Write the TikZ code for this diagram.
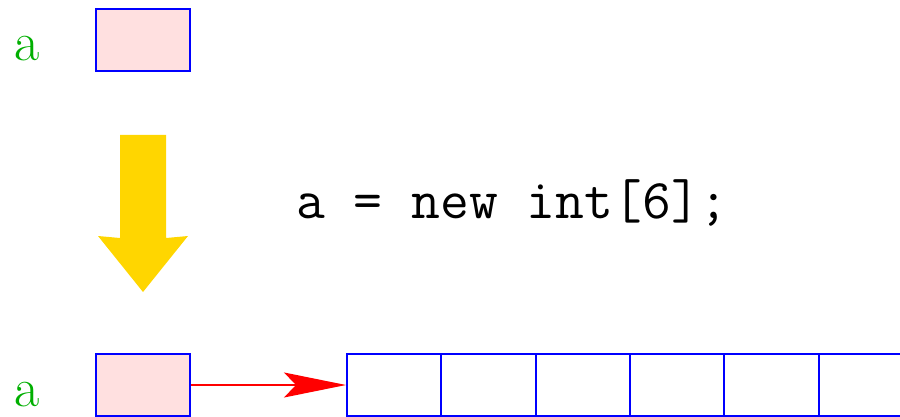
\documentclass[tikz,border=0pt]{standalone}
\usetikzlibrary{arrows.meta,shapes.arrows}
\definecolor{cellfill}{RGB}{255,224,224}
\definecolor{lblgreen}{RGB}{0,175,0}
\definecolor{arrowgold}{RGB}{255,214,0}
\begin{document}
\begin{tikzpicture}[x=1pt,y=-1pt,
  varbox/.style={draw=blue,line width=2pt,fill=cellfill,minimum width=94pt,minimum height=62pt,inner sep=0pt},
  cellbox/.style={draw=blue,line width=2pt,minimum width=94.3pt,minimum height=62pt,inner sep=0pt},
  lbl/.style={text=lblgreen,font=\fontsize{55}{60}\selectfont,anchor=base west,inner sep=0pt},
  code/.style={font=\ttfamily\fontsize{56}{60}\selectfont,anchor=base west,inner sep=0pt},
  ptr/.style={draw=red,line width=1.6pt,-{Stealth[length=62pt,width=25pt,inset=12pt]}}]
\useasboundingbox (0,0) rectangle (900,417);
\clip (0,0) rectangle (900,417);
% top variable
\node[lbl] (la) at (14,61) {a};
\node[varbox] (va) at (143,40.5) {};
% yellow arrow
\fill[arrowgold] (120,135) -- (166,135) -- (166,238) -- (188,236) -- (143,292) -- (98,236) -- (120,238) -- cycle;
% code
\node[code] (stmt) at (296,218.5) {a = new int[6];};
% bottom variable
\node[lbl] (lb) at (14,406) {a};
\node[varbox] (vb) at (143,385) {};
% array cells
\foreach \i in {0,...,5}{
  \node[cellbox] (c\i) at ({347+47.15+94.3*\i},385) {};
}
\draw[ptr] (vb.east) -- (c0.west);
\end{tikzpicture}
\end{document}
